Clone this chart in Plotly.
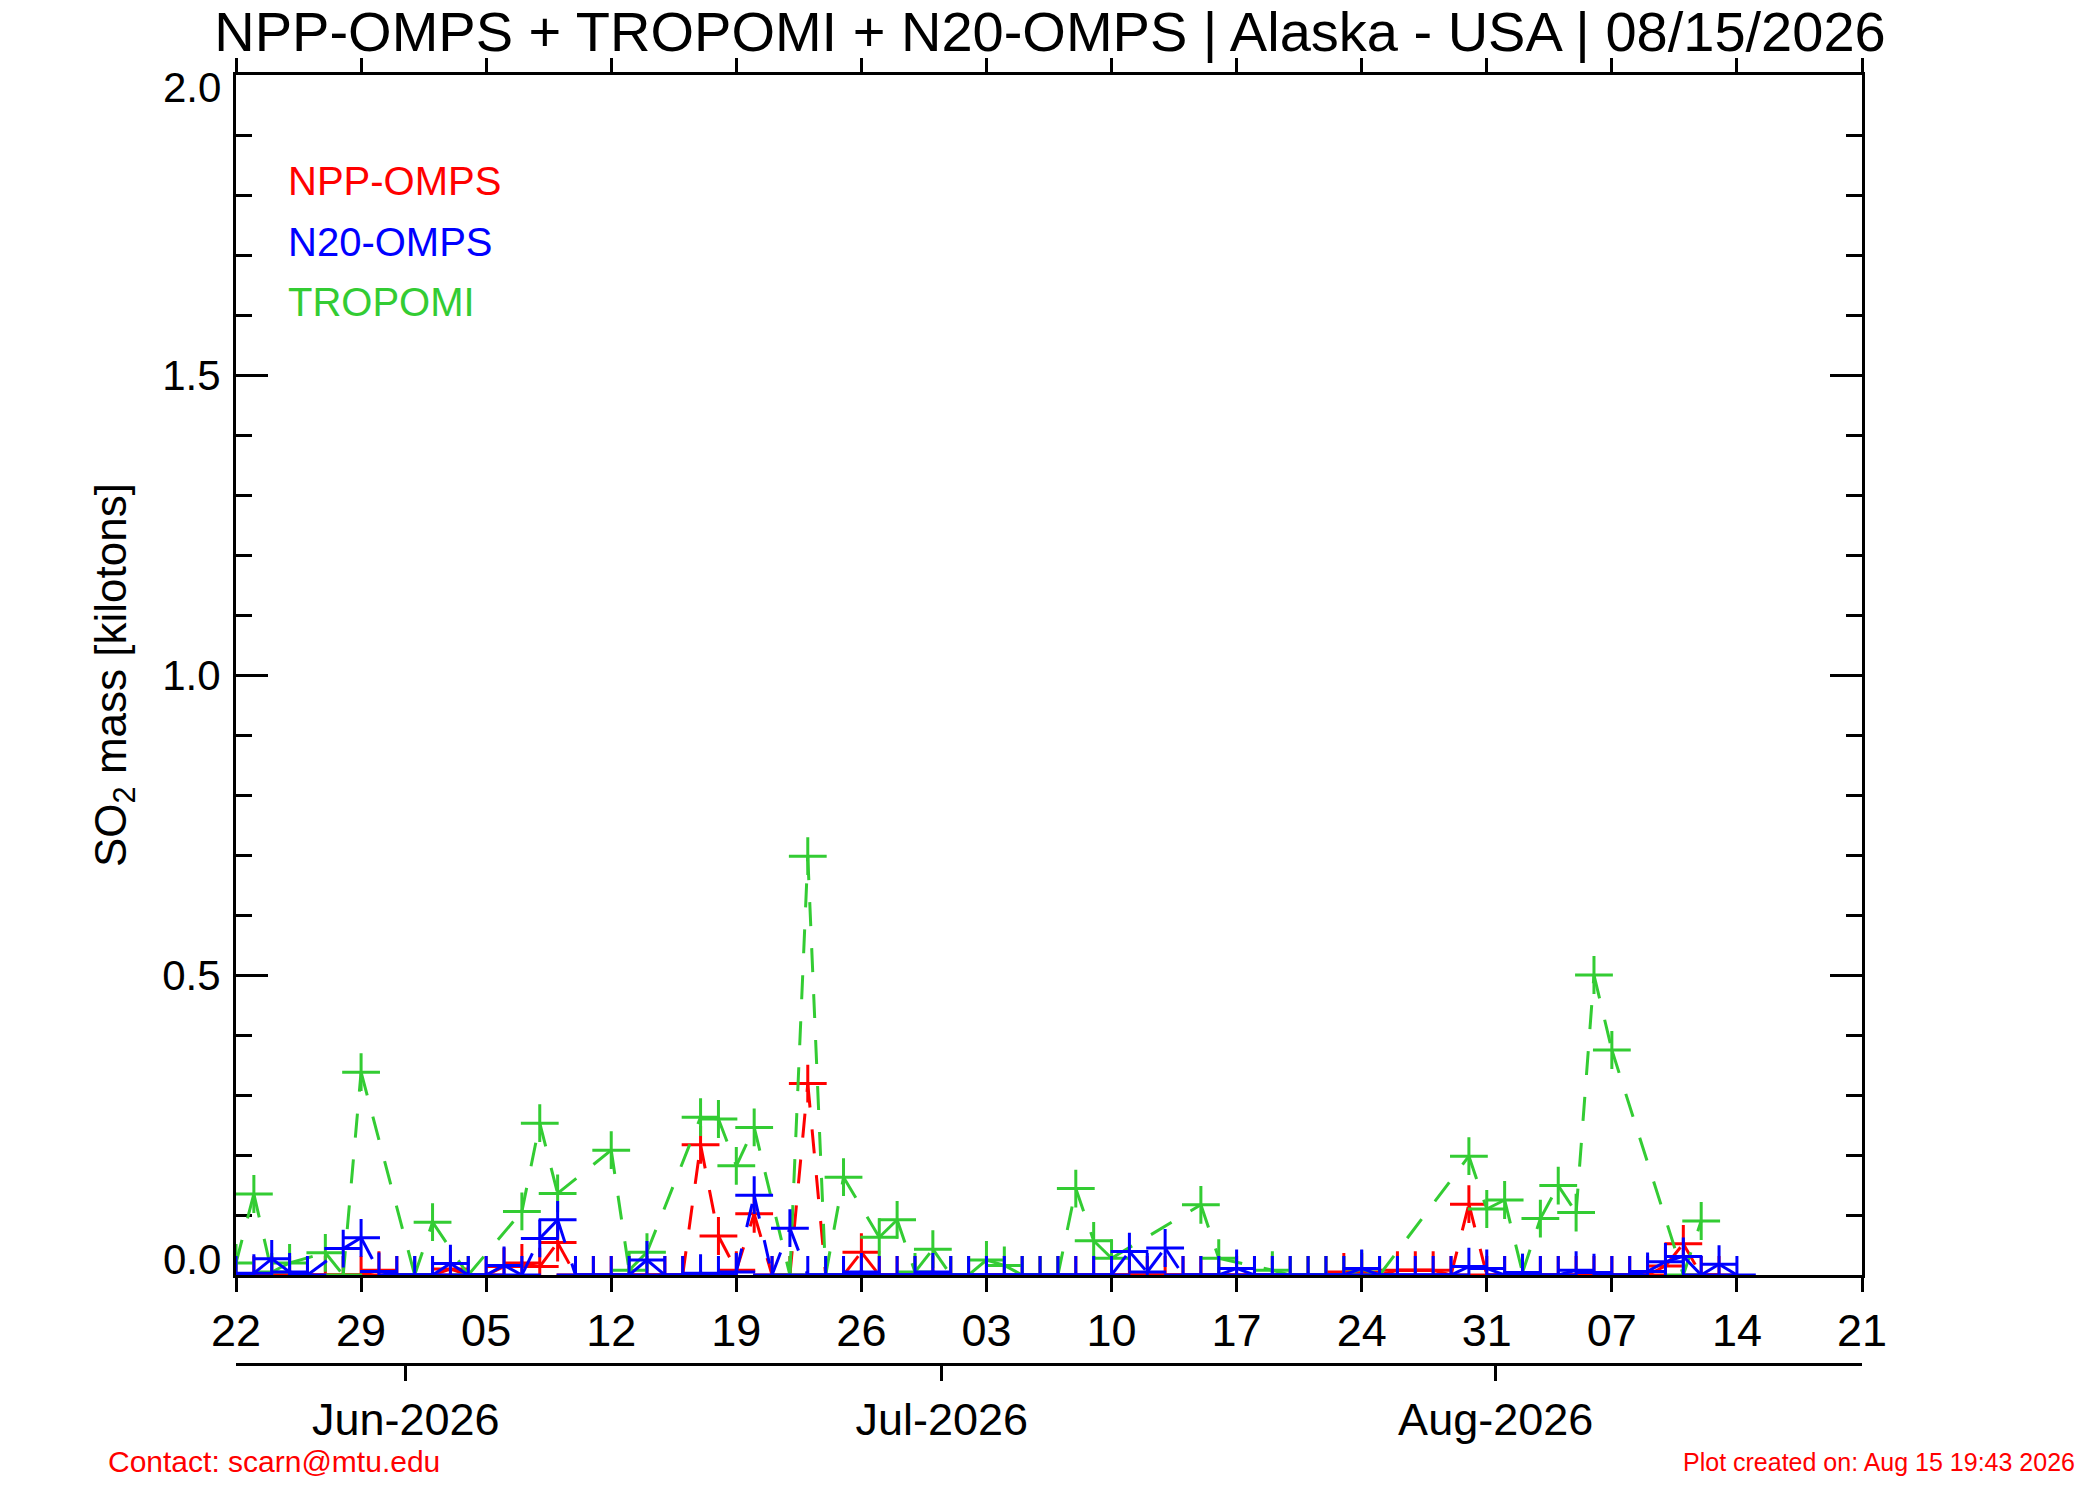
import pandas as pd
import plotly.graph_objects as go

# daily SO2 mass [kilotons], first day 2026-05-22, None = no retrieval that day
start_day = "2026-05-22"

npp_omps = [
    0.0, 0.0, 0.0, 0.0, 0.0, 0.0, 0.0, 0.0, 0.008, 0.0,      # May 22 - May 31
    0.0, 0.0, 0.01, 0.0, 0.0, 0.014, 0.02, 0.014, 0.054, 0.0,  # Jun 01 - Jun 10
    0.0, 0.0, 0.0, 0.0, 0.0, 0.0, 0.217, 0.065, 0.008, 0.102,  # Jun 11 - Jun 20
    0.0, 0.0, 0.319, 0.0, 0.0, 0.038, 0.0, 0.0, 0.0, 0.0,      # Jun 21 - Jun 30
    0.0, 0.0, 0.0, 0.0, 0.0, 0.0, 0.0, 0.0, 0.0, 0.0,          # Jul 01 - Jul 10
    0.0, 0.0, 0.0, 0.0, 0.0, 0.0, 0.0, 0.0, 0.0, 0.0,          # Jul 11 - Jul 20
    0.0, 0.0, 0.005, 0.005, 0.0, 0.008, 0.008, 0.008, 0.0, 0.118,  # Jul 21 - Jul 30
    0.0, 0.0, 0.0, 0.0, 0.0, 0.0, 0.0, 0.0, 0.0, 0.0,          # Jul 31 - Aug 09
    0.015, 0.052, 0.0, 0.0, None,                              # Aug 10 - Aug 14
]

n20_omps = [
    0.0, 0.003, 0.027, 0.005, 0.0, None, 0.044, 0.062, 0.006, 0.0,
    0.0, 0.0, 0.019, 0.0, 0.0, 0.016, 0.0, 0.061, 0.092, 0.0,
    0.0, 0.0, 0.0, 0.025, 0.0, 0.0, 0.003, 0.0, 0.005, 0.133,
    0.0, 0.078, 0.0, 0.0, 0.0, 0.005, 0.0, 0.0, 0.0, 0.005,
    0.0, 0.0, 0.0, 0.0, 0.0, 0.0, 0.0, 0.0, 0.0, 0.0,
    0.039, 0.005, 0.045, 0.0, 0.0, 0.0, 0.011, 0.0, 0.0, 0.0,
    0.0, 0.0, 0.0, 0.011, 0.0, 0.0, 0.0, 0.0, 0.0, 0.014,
    0.011, 0.0, 0.004, 0.0, 0.0, 0.008, 0.004, 0.0, 0.0, 0.006,
    0.022, 0.031, 0.0, 0.018, 0.0,
]

tropomi = [
    0.02, 0.135, 0.005, 0.02, None, 0.037, 0.0, 0.338, None, None,
    0.0, 0.088, None, 0.0, None, None, 0.106, 0.253, 0.136, None,
    None, 0.208, 0.008, 0.038, None, None, 0.263, 0.26, 0.182, 0.246,
    None, 0.0, 0.698, 0.0, 0.163, None, 0.063, 0.092, 0.005, 0.043,
    0.0, 0.0, 0.025, 0.016, 0.0, 0.0, 0.0, 0.144, 0.057, 0.028,
    None, None, None, None, 0.117, 0.028, None, None, 0.008, 0.0,
    0.0, 0.0, 0.0, 0.01, 0.0, None, None, None, None, 0.198,
    0.11, 0.125, 0.004, 0.094, 0.149, 0.104, 0.50, 0.375, None, None,
    None, 0.0, 0.09, None, None,
]

week_ticks = pd.date_range("2026-05-22", "2026-08-21", freq="7D")
week_labels = [d.strftime("%d") for d in week_ticks]
month_ticks = ["2026-05-31 12:00", "2026-06-30 12:00", "2026-07-31 12:00"]
month_labels = ["Jun-2026", "Jul-2026", "Aug-2026"]

FONT = "Liberation Sans, Arial, sans-serif"
RED, BLUE, GREEN = "#ff0000", "#0000ff", "#33cc33"


def add_series(fig, vals, color):
    days = pd.date_range(start_day, periods=len(vals))
    pts = [(d, v) for d, v in zip(days, vals) if v is not None]
    # one trace per segment so the dash pattern restarts at every point (IDL style)
    for (d0, v0), (d1, v1) in zip(pts[:-1], pts[1:]):
        fig.add_trace(go.Scatter(x=[d0, d1], y=[v0, v1], mode='lines',
                                 line=dict(color=color, width=3, dash='24px,22px'),
                                 hoverinfo='skip', showlegend=False))
    fig.add_trace(go.Scatter(x=[p[0] for p in pts], y=[p[1] for p in pts], mode='markers',
                             marker=dict(symbol='cross-thin', size=27, color=color,
                                         line=dict(width=3, color=color)),
                             showlegend=False))


fig = go.Figure()
add_series(fig, npp_omps, RED)
add_series(fig, tropomi, GREEN)
add_series(fig, n20_omps, BLUE)
# carrier for the month axis under the plot
fig.add_trace(go.Scatter(x=month_ticks, y=[None] * len(month_ticks), xaxis='x2',
                         mode='markers', showlegend=False, hoverinfo='skip'))

axis_common = dict(showline=True, linecolor='black', linewidth=3, showgrid=False,
                   zeroline=False, tickcolor='black', tickwidth=3)

fig.update_layout(
    width=2100, height=1500,
    paper_bgcolor='white', plot_bgcolor='white',
    margin=dict(l=236, r=238, t=75, b=136),
    font=dict(family=FONT, color='black'),
    title=dict(text='NPP-OMPS + TROPOMI + N20-OMPS | Alaska - USA | 08/15/2026',
               x=0.5, xanchor='center', y=0.979, yanchor='middle',
               font=dict(size=56, family=FONT)),
    xaxis=dict(type='date', range=['2026-05-22', '2026-08-21'],
               tickvals=week_ticks, ticktext=week_labels,
               ticks='outside', ticklen=14, mirror='ticks',
               tickfont=dict(size=45), layer='below traces', **axis_common),
    xaxis2=dict(type='date', range=['2026-05-22', '2026-08-21'], overlaying='x',
                anchor='free', position=0, side='bottom',
                tickvals=month_ticks, ticktext=month_labels,
                ticks='outside', ticklen=15, tickfont=dict(size=45), **axis_common),
    yaxis=dict(range=[0, 2], domain=[89 / 1289, 1],
               tickvals=[0.5, 1.0, 1.5], ticktext=['0.5', '1.0', '1.5'],
               ticks='inside', ticklen=32, mirror='ticks', tickfont=dict(size=42),
               ticklabelstandoff=4,
               minor=dict(dtick=0.1, ticks='inside', ticklen=16, tickwidth=3, tickcolor='black'),
               layer='below traces', **axis_common),
)

# end labels of the y axis sit inside the frame, like the original
for val, label, shift in [(0, '0.0', 16), (2, '2.0', -12)]:
    fig.add_annotation(xref='x domain', x=0, xanchor='right', xshift=-13,
                       yref='y', y=val, yanchor='middle', yshift=shift,
                       text=label, showarrow=False, font=dict(size=42))

fig.add_annotation(xref='x domain', x=0, xanchor='center', xshift=-122,
                   yref='y domain', y=0.5, yanchor='middle',
                   text='SO<sub>2</sub> mass [kilotons]', textangle=-90,
                   showarrow=False, font=dict(size=44))

for name, color, ypos in [('NPP-OMPS', RED, 0.9117), ('N20-OMPS', BLUE, 0.8608),
                          ('TROPOMI', GREEN, 0.8108)]:
    fig.add_annotation(xref='x domain', x=0.031, xanchor='left', yref='y domain', y=ypos,
                       yanchor='middle', text=name, showarrow=False,
                       font=dict(size=40, color=color))

fig.add_annotation(xref='paper', x=-0.08, xanchor='left', yref='paper', y=-0.076,
                   yanchor='middle', text='Contact: scarn@mtu.edu', showarrow=False,
                   font=dict(size=30, color=RED))
fig.add_annotation(xref='paper', x=1.132, xanchor='right', yref='paper', y=-0.076,
                   yanchor='middle', text='Plot created on: Aug 15 19:43 2026', showarrow=False,
                   font=dict(size=25, color=RED))

# the page's default body margin would offset the whole figure
fig.write_html("out.html", config={'displayModeBar': False},
               post_script="document.body.style.margin='0px';")
